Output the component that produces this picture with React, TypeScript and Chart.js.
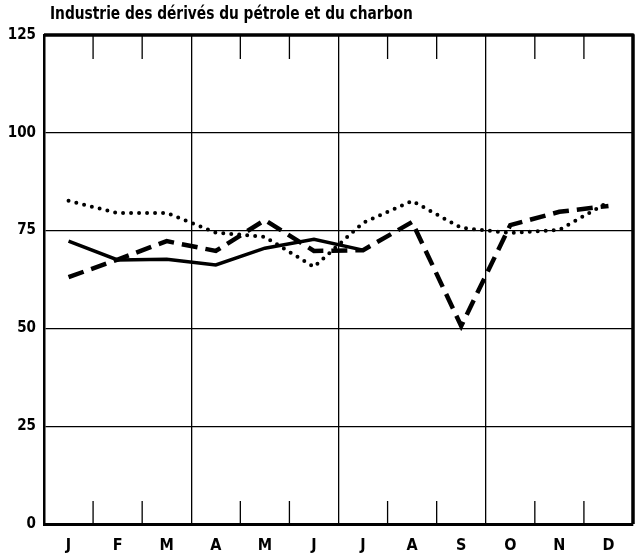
import React, { useEffect, useRef } from 'react';
import { Chart, registerables } from 'chart.js';

Chart.register(...registerables);

const TITLE = 'Industrie des dérivés du pétrole et du charbon';
const MONTHS = ['J', 'F', 'M', 'A', 'M', 'J', 'J', 'A', 'S', 'O', 'N', 'D'];
const Y_TICKS = [0, 25, 50, 75, 100, 125];
const SERIES_SOLID = [72.3, 67.5, 67.7, 66.2, 70.5, 72.8, 70, null, null, null, null, null];
const SERIES_DASHED = [63.1, 67.6, 72.3, 69.8, 77.7, 69.8, 70, 77.2, 50.6, 76.4, 79.8, 81.3];
const SERIES_DOTTED = [82.6, 79.5, 79.5, 74.5, 73.4, 65.7, 77, 82.6, 75.7, 74.4, 75.2, 82.3];

const FONT = "'Liberation Sans Narrow', 'DejaVu Sans Condensed', 'Arial Narrow', sans-serif";

const framePlugin = {
  id: 'frame',
  beforeDatasetsDraw(chart: any) {
    const { ctx, chartArea } = chart;
    const xs = chart.scales.x;
    const n = MONTHS.length;
    ctx.save();
    ctx.strokeStyle = '#000';
    ctx.lineWidth = 1.3;
    for (let i = 1; i < n; i++) {
      if (i % 3 === 0) continue;
      const x = (xs.getPixelForValue(i - 1) + xs.getPixelForValue(i)) / 2;
      ctx.beginPath();
      ctx.moveTo(x, chartArea.bottom);
      ctx.lineTo(x, chartArea.bottom - 23);
      ctx.moveTo(x, chartArea.top);
      ctx.lineTo(x, chartArea.top + 24);
      ctx.stroke();
    }
    ctx.lineWidth = 3.5;
    ctx.lineJoin = 'round';
    ctx.beginPath();
    ctx.moveTo(chartArea.left, chartArea.top);
    ctx.lineTo(chartArea.right, chartArea.top);
    ctx.lineTo(chartArea.right, chartArea.bottom);
    ctx.stroke();
    ctx.restore();
  },
  afterDraw(chart: any) {
    const { ctx, chartArea } = chart;
    ctx.save();
    ctx.fillStyle = '#000';
    ctx.font = `bold 17px ${FONT}`;
    ctx.textBaseline = 'middle';
    ctx.textAlign = 'left';
    ctx.translate(chartArea.left + 6, 15);
    ctx.scale(0.9, 1);
    ctx.fillText(TITLE, 0, 0);
    ctx.restore();
  },
};

export default function App() {
  const ref = useRef<HTMLCanvasElement | null>(null);
  useEffect(() => {
    if (!ref.current) return;
    const chart = new Chart(ref.current, {
      type: 'line',
      data: {
        labels: MONTHS,
        datasets: [
          {
            data: SERIES_SOLID,
            borderColor: '#000',
            borderWidth: 3.5,
            pointRadius: 0,
            tension: 0,
            spanGaps: false,
          },
          {
            data: SERIES_DASHED,
            borderColor: '#000',
            borderWidth: 4.5,
            borderDash: [16, 8],
            pointRadius: 0,
            tension: 0,
          },
          {
            data: SERIES_DOTTED,
            borderColor: '#000',
            borderWidth: 4,
            borderDash: [0, 8],
            borderCapStyle: 'round',
            pointRadius: 0,
            tension: 0,
          },
        ],
      },
      options: {
        animation: false,
        responsive: false,
        maintainAspectRatio: false,
        layout: { padding: { top: 35, right: 7, left: 0, bottom: 0 } },
        plugins: {
          legend: { display: false },
          tooltip: { enabled: false },
          title: { display: false },
        },
        scales: {
          x: {
            type: 'category',
            offset: true,
            afterFit(scale: any) {
              scale.height = 36;
            },
            grid: {
              offset: true,
              drawTicks: false,
              lineWidth: 1.3,
              color: (c: any) =>
                c.index % 3 === 0 && c.index > 0 && c.index < MONTHS.length ? '#000' : 'rgba(0,0,0,0)',
            },
            border: { display: true, color: '#000', width: 3 },
            ticks: {
              color: '#000',
              padding: 12,
              autoSkip: false,
              maxRotation: 0,
              font: { family: FONT, size: 16, weight: 'bold' },
            },
          },
          y: {
            min: 0,
            max: 125,
            afterFit(scale: any) {
              scale.width = 44;
            },
            afterBuildTicks(scale: any) {
              scale.ticks = Y_TICKS.map((v) => ({ value: v }));
            },
            grid: {
              drawTicks: false,
              lineWidth: 1.3,
              color: (c: any) =>
                c.tick && c.tick.value > 0 && c.tick.value < 125 ? '#000' : 'rgba(0,0,0,0)',
            },
            border: { display: true, color: '#000', width: 2.5 },
            ticks: {
              color: '#000',
              padding: 8,
              font: { family: FONT, size: 15, weight: 'bold' },
            },
          },
        },
      },
      plugins: [framePlugin],
    } as any);
    return () => chart.destroy();
  }, []);
  return (
    <div style={{ position: 'fixed', left: 0, top: 0, width: 640, height: 560, background: '#fff' }}>
      <canvas ref={ref} width={640} height={560} style={{ width: 640, height: 560 }} />
    </div>
  );
}
